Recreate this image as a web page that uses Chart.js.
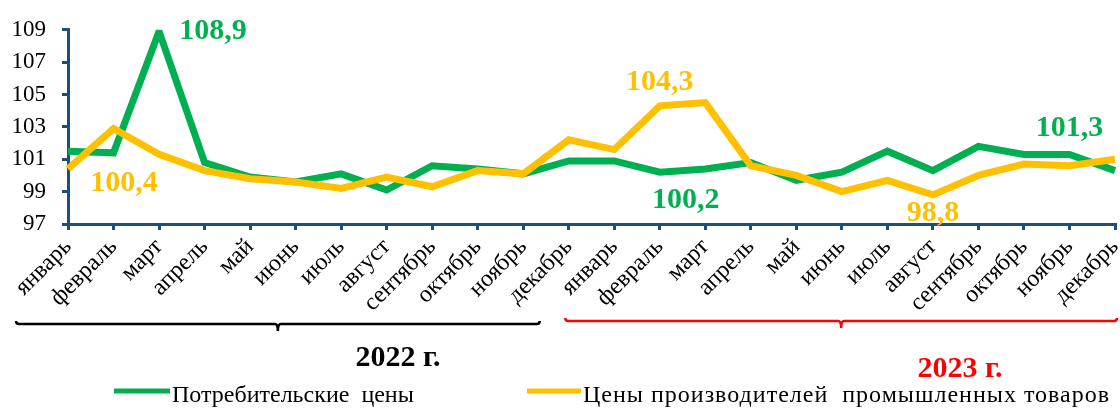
<!DOCTYPE html>
<html>
<head>
<meta charset="utf-8">
<script src="https://cdn.jsdelivr.net/npm/chart.js@4.4.1/dist/chart.umd.min.js"></script>
<style>
  html,body{margin:0;padding:0;background:#fff;}
  #c{display:block;}
</style>
</head>
<body>
<canvas id="c" width="1120" height="408"></canvas>
<script>
// индексы цен, % к предыдущему месяцу
const months = ['январь','февраль','март','апрель','май','июнь','июль','август','сентябрь','октябрь','ноябрь','декабрь'];
const labels = months.concat(months);
const years = ['2022 г.', '2023 г.'];

const consumer = [101.5, 101.4, 108.9, 100.8, 99.9, 99.6, 100.1, 99.1, 100.6, 100.4, 100.1, 100.9,
                  100.9, 100.2, 100.4, 100.8, 99.7, 100.2, 101.5, 100.3, 101.8, 101.3, 101.3, 100.3];
const producer = [100.4, 102.9, 101.3, 100.3, 99.8, 99.6, 99.2, 99.9, 99.3, 100.3, 100.1, 102.2,
                  101.6, 104.3, 104.5, 100.6, 100.0, 99.0, 99.7, 98.8, 100.0, 100.7, 100.6, 101.0];

const yMin = 97, yMax = 109, yStep = 2;

// подписи значений: ряд, индекс точки, текст
const callouts = [
  {ds:0, i:2,  text:'108,9'},
  {ds:1, i:0,  text:'100,4'},
  {ds:1, i:13, text:'104,3'},
  {ds:0, i:13, text:'100,2'},
  {ds:0, i:22, text:'101,3'},
  {ds:1, i:19, text:'98,8'}
];

const GREEN = '#00B050', YELLOW = '#FFC000', AXIS = '#1F4E79';
const SERIF = '"Liberation Serif", "Times New Roman", serif';

const extras = {
  id: 'extras',
  afterDatasetsDraw(chart){
    const {ctx, scales:{x, y}} = chart;
    ctx.save();
    // value labels
    const off = [[54,0],[56,14],[0,-24],[26,28],[0,-26],[0,18]];
    ctx.font = 'bold 30px ' + SERIF;
    ctx.textAlign = 'center'; ctx.textBaseline = 'middle';
    callouts.forEach((c,k)=>{
      const ds = chart.data.datasets[c.ds];
      ctx.fillStyle = ds.borderColor;
      ctx.fillText(c.text, x.getPixelForValue(c.i) + off[k][0], y.getPixelForValue(ds.data[c.i]) + off[k][1]);
    });
    ctx.restore();
  },
  afterDraw(chart){
    const {ctx, scales:{x}} = chart;
    ctx.save();
    // скобки под месяцами
    function brace(x1, x2, yy, col){
      const mid = (x1+x2)/2, h = 3;
      ctx.strokeStyle = col; ctx.lineWidth = 2.5;
      ctx.beginPath();
      ctx.moveTo(x1, yy-h);
      ctx.quadraticCurveTo(x1, yy, x1+h, yy);
      ctx.lineTo(mid-h, yy);
      ctx.quadraticCurveTo(mid, yy, mid, yy+h+4);
      ctx.quadraticCurveTo(mid, yy, mid+h, yy);
      ctx.lineTo(x2-h, yy);
      ctx.quadraticCurveTo(x2, yy, x2, yy-h);
      ctx.stroke();
    }
    brace(x.getPixelForValue(0)-52, x.getPixelForValue(11)-29, 324, '#000');
    brace(x.getPixelForValue(12)-49, x.getPixelForValue(23)+2, 321, '#FF0000');

    ctx.font = 'bold 30px ' + SERIF;
    ctx.textAlign = 'center'; ctx.textBaseline = 'middle';
    ctx.fillStyle = '#000';
    ctx.fillText(years[0], 398, 358);
    ctx.fillStyle = '#FF0000';
    ctx.fillText(years[1], 960, 369);

    // легенда
    const items = [[114,170,172,0],[527,581,583,1]];
    ctx.font = '24px ' + SERIF;
    ctx.textAlign = 'left';
    chart.data.datasets.forEach((ds,k)=>{
      const [a,b,t,sp] = items[k];
      ctx.strokeStyle = ds.borderColor; ctx.lineWidth = 5;
      ctx.beginPath(); ctx.moveTo(a, 391); ctx.lineTo(b, 391); ctx.stroke();
      ctx.fillStyle = '#000';
      ctx.letterSpacing = sp + 'px';
      ctx.fillText(ds.label, t, 396);
    });
    ctx.restore();
  }
};

new Chart(document.getElementById('c'), {
  type: 'line',
  data: {
    labels,
    datasets: [
      {label:'Потребительские  цены', data:consumer, borderColor:GREEN, borderWidth:7, order:2},
      {label:'Цены производителей  промышленных товаров', data:producer, borderColor:YELLOW, borderWidth:7, order:1}
    ]
  },
  options: {
    responsive: false,
    animation: false,
    devicePixelRatio: 1,
    layout: { padding: {top: 27, right: 5, left: 0, bottom: 0} },
    elements: {
      point: { radius: 0 },
      line: { tension: 0, borderJoinStyle: 'miter', borderCapStyle: 'butt', fill: false }
    },
    plugins: { legend: {display:false}, tooltip: {enabled:false} },
    scales: {
      x: {
        offset: false,
        afterFit(s){ s.height = 184; s.paddingLeft = 0; s.paddingRight = 0; },
        grid: { display:true, drawOnChartArea:false, drawTicks:true, tickLength:6, color:AXIS, lineWidth:3 },
        border: { color:AXIS, width:3 },
        ticks: { autoSkip:false, minRotation:45, maxRotation:45, padding:3, color:'#000', font:{family:SERIF, size:24} }
      },
      y: {
        min: yMin, max: yMax,
        afterFit(s){ s.width = 68; },
        grid: { display:true, drawOnChartArea:false, drawTicks:true, tickLength:6, color:AXIS, lineWidth:3 },
        border: { color:AXIS, width:3 },
        ticks: { stepSize:yStep, padding:16, color:'#000', font:{family:SERIF, size:23} }
      }
    }
  },
  plugins: [extras]
});
</script>
</body>
</html>
